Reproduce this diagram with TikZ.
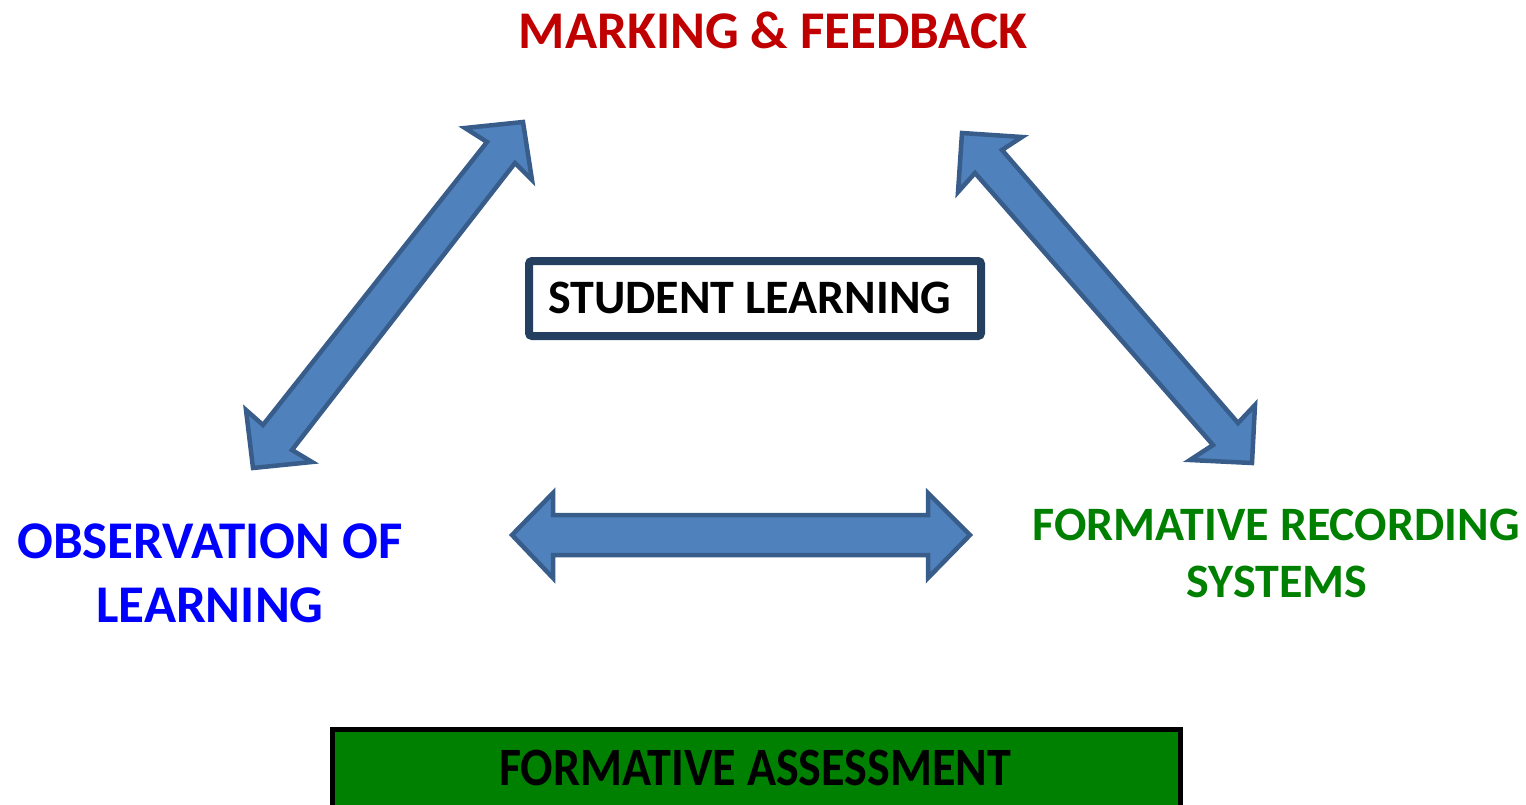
\documentclass[tikz,border=0pt]{standalone}
\usepackage{fontspec}
\setmainfont{Carlito}
\definecolor{arrowfill}{HTML}{4F81BD}
\definecolor{arrowline}{HTML}{385D8A}
\definecolor{boxline}{HTML}{243F60}
\definecolor{markred}{HTML}{C00000}
\definecolor{obsblue}{HTML}{0000FF}
\definecolor{recgreen}{HTML}{008000}
\begin{document}
\begin{tikzpicture}[x=1pt,y=-1pt,
  label/.style={inner sep=0pt, anchor=base, font=\fontsize{53}{60}\selectfont\bfseries},
  smalllabel/.style={label, font=\fontsize{48}{56}\selectfont\bfseries},
  blockarrow/.style={fill=arrowfill, draw=arrowline, line width=4.5pt, line join=miter}]
\useasboundingbox (0,0) rectangle (1526,805);

% headings around the cycle
\node[label, text=markred] (mark) at (773,49) {MARKING \& FEEDBACK};
\node[label, text=obsblue] (obs1) at (210,558) {OBSERVATION OF};
\node[label, text=obsblue] (obs2) at (210,622) {LEARNING};
\node[smalllabel, text=recgreen] (rec1) at (1276,540) {FORMATIVE RECORDING};
\node[smalllabel, text=recgreen] (rec2) at (1277,597) {SYSTEMS};

% central box
\draw[boxline, line width=8pt, rounded corners=3pt, fill=white] (529,261) rectangle (981,336);
\node[inner sep=0pt, anchor=base west, font=\fontsize{48}{56}\selectfont\bfseries] (student) at (548,313) {STUDENT LEARNING};

% bottom banner
\draw[black, line width=5pt, fill=recgreen] (332,729) rectangle (1180,815);
\node[inner sep=0pt, anchor=base, xscale=0.89, font=\fontsize{54}{60}\selectfont\bfseries] (fa) at (755,785) {FORMATIVE ASSESSMENT};

% left double arrow
\draw[blockarrow] (523,122) -- (532,180) -- (515,163) -- (292,450) -- (312,462) -- (253,468)
  -- (246,410) -- (263,425) -- (487,142) -- (465,128) -- cycle;
% right double arrow
\draw[blockarrow] (962,133) -- (1022,137) -- (1002,150) -- (1238,423) -- (1255,405) -- (1252,463)
  -- (1190,460) -- (1213,445) -- (975,173) -- (958,192) -- cycle;
% bottom double arrow
\draw[blockarrow] (512,535) -- (553,493) -- (553,515) -- (928,515) -- (928,493) -- (970,535)
  -- (928,578) -- (928,555) -- (553,555) -- (553,578) -- cycle;
\end{tikzpicture}
\end{document}
